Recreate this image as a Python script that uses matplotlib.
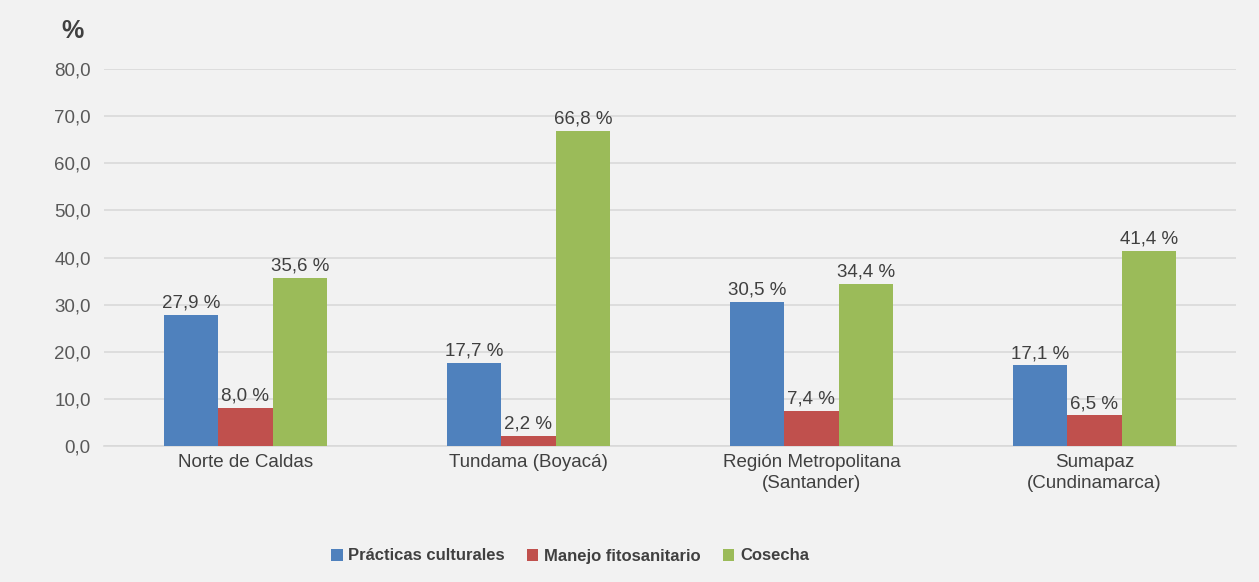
import matplotlib
matplotlib.use("Agg")
import matplotlib.pyplot as plt
import numpy as np

categories = ["Norte de Caldas", "Tundama (Boyacá)", "Región Metropolitana\n(Santander)", "Sumapaz\n(Cundinamarca)"]
series_names = ["Prácticas culturales", "Manejo fitosanitario", "Cosecha"]
practicas = [27.9, 17.7, 30.5, 17.1]
manejo = [8.0, 2.2, 7.4, 6.5]
cosecha = [35.6, 66.8, 34.4, 41.4]
yticks = [0, 10, 20, 30, 40, 50, 60, 70, 80]

colors = ["#4f81bd", "#c0504d", "#9bbb59"]

plt.rcParams['font.family'] = ["Liberation Sans", 'DejaVu Sans']

fig = plt.figure(figsize=(12.59, 5.82), dpi=100, facecolor="#f2f2f2")
ax = fig.add_axes([0.0826, 0.2337, 0.899, 0.6477], facecolor="#f2f2f2")

x = np.arange(len(categories))
w = 0.192
data = [practicas, manejo, cosecha]
for i, (vals, c, nm) in enumerate(zip(data, colors, series_names)):
    bars = ax.bar(x + (i - 1) * w, vals, w, color=c, label=nm, zorder=3)
    for b, v in zip(bars, vals):
        ax.text(b.get_x() + b.get_width() / 2, v + 0.7, f"{v:.1f} %".replace(".", ","),
                ha="center", va="bottom", fontsize=13.5, color="#404040", zorder=4)

ax.set_xlim(-0.5, len(categories) - 0.5)
ax.set_ylim(0, 80)
ax.set_yticks(yticks)
ax.set_yticklabels([f"{t:.1f}".replace(".", ",") for t in yticks], fontsize=13.5, color="#595959")
ax.set_xticks(x)
ax.set_xticklabels(categories, fontsize=13.5, color="#404040", linespacing=1.3)
ax.tick_params(axis="y", length=0, pad=9.5)
ax.tick_params(axis="x", length=0, pad=6)
ax.grid(axis="y", color="#d9d9d9", linewidth=1.2, zorder=0)
for s in ["top", "right", "left"]:
    ax.spines[s].set_visible(False)
ax.spines["bottom"].set_color("#d9d9d9")
ax.spines["bottom"].set_linewidth(1.2)

fig.text(72 / 1259, 1 - 31 / 582, "%", fontsize=18, fontweight="bold", color="#404040", ha="center", va="center")

leg = fig.legend(loc="center", bbox_to_anchor=(570 / 1259, 1 - 556 / 582), ncol=3, frameon=False,
                 handlelength=0.7, handleheight=0.7, handletextpad=0.35, columnspacing=1.3,
                 prop={"size": 12, "weight": "bold"})
for t in leg.get_texts():
    t.set_color("#404040")

fig.savefig("out.png", dpi=100, facecolor=fig.get_facecolor())
